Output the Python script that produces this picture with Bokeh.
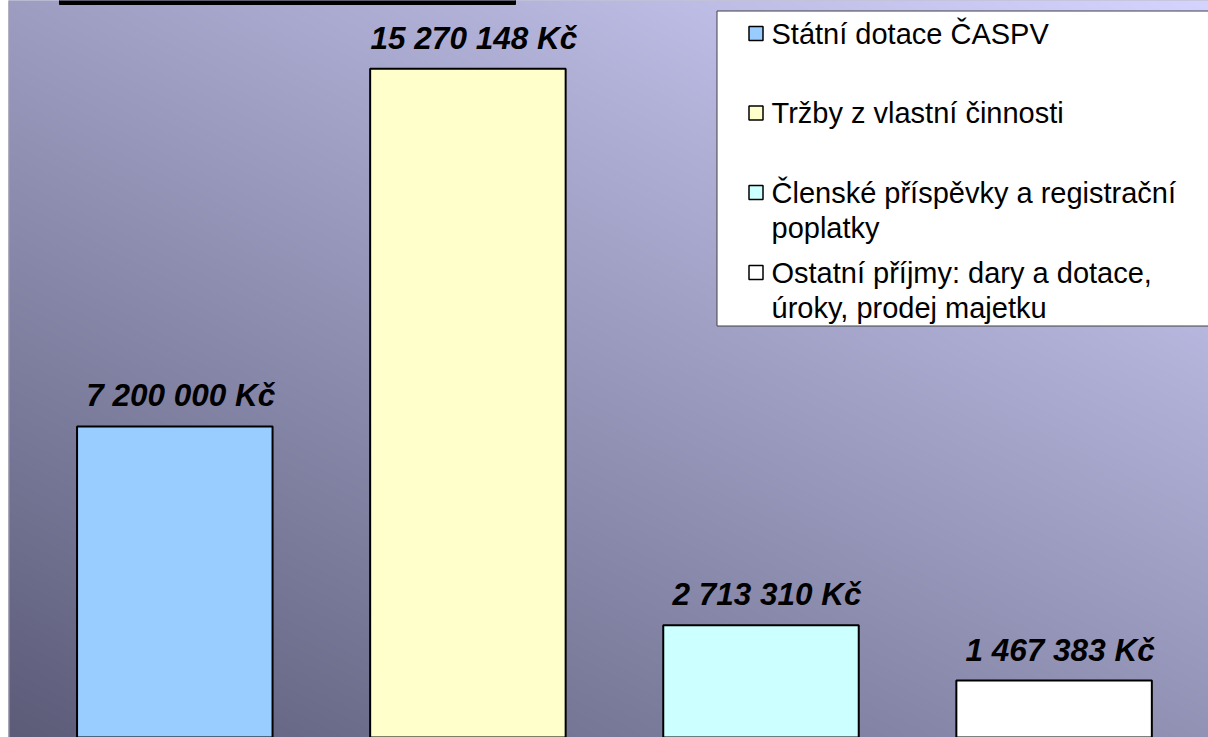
import numpy as np
from bokeh.plotting import figure
from bokeh.models import Range1d, Span
from bokeh.core.properties import value
from bokeh.embed import file_html
from bokeh.resources import INLINE

# ---------------- data ----------------
categories = [
    "Státní dotace ČASPV",
    "Tržby z vlastní činnosti",
    "Členské příspěvky a registrační poplatky",
    "Ostatní příjmy: dary a dotace, úroky, prodej majetku",
]
legend_lines = [
    ["Státní dotace ČASPV"],
    ["Tržby z vlastní činnosti"],
    ["Členské příspěvky a registrační", "poplatky"],
    ["Ostatní příjmy: dary a dotace,", "úroky, prodej majetku"],
]
values = [7200000, 15270148, 2713310, 1467383]
colors = ["#99ccff", "#ffffcc", "#ccffff", "#ffffff"]
labels = [f"{v:,}".replace(",", " ") + " Kč" for v in values]

# ---------------- layout ----------------
W, H = 1200, 737          # figure size
LEFT, TOP = 8, 0          # page position of figure
XS, XE = -0.5674, 3.5268  # category index range
YB, YT = 0.1827e6, 16.810e6


def dx(px):
    return XS + (px - LEFT) / W * (XE - XS)


def dy(py):
    return YT - (py - TOP) / H * (YT - YB)


p = figure(width=W, height=H, x_range=Range1d(XS, XE), y_range=Range1d(YB, YT),
           output_backend="svg", toolbar_location=None, min_border=0,
           x_axis_location=None, y_axis_location=None,
           outline_line_color=None, margin=(0, 0, 0, 8))
p.grid.visible = False
p.background_fill_color = "#8888b0"
p.border_fill_color = "white"

# gradient background (styling only)
h2, w2 = H // 2 + 1, W // 2
jj = np.arange(w2)[None, :]
ii = np.arange(h2)[:, None]
pxs = LEFT + (jj + 0.5) * 2
pys = TOP + H - (ii + 0.5) * 2
t = (0.045 * (pxs - 8) + 0.088 * (737 - pys)) / 118.9
t = np.clip(t, 0, 1)
dark = np.array([92, 92, 121])
light = np.array([212, 212, 255])
r = (dark[0] + t * (light[0] - dark[0])).astype(np.uint32)
g = (dark[1] + t * (light[1] - dark[1])).astype(np.uint32)
b = (dark[2] + t * (light[2] - dark[2])).astype(np.uint32)
img = (255 << 24) | (b << 16) | (g << 8) | r
img = img.astype(np.uint32)
p.image_rgba(image=[img], x=XS, y=YB, dw=XE - XS, dh=YT - YB)

# left border of chart area
p.add_layout(Span(location=dx(8.5), dimension="height", line_color="#a0a0a0", line_width=1))

# bottom edge of title box (cropped)
p.quad(left=dx(59), right=dx(515), top=dy(-5), bottom=dy(4), fill_color="black", line_color="black")

xs = list(range(len(values)))
p.vbar(x=xs, top=values, bottom=0, width=0.667, fill_color=colors,
       line_color="black", line_width=2)

p.text(x=xs, y=values, text=labels, text_align="center", text_baseline="alphabetic",
       x_offset=6, y_offset=-31, text_font=value("Liberation Sans"), text_font_size="31.5px",
       text_font_style="bold italic", text_color="black")

# legend
p.quad(left=dx(716.5), right=dx(1230), top=dy(10.5), bottom=dy(325.5),
       fill_color="white", line_color="#404040", line_width=1)
entry_y = [33, 112.5, 192, 272]
line_gap = 35
sq_x, sq_y, sq_c = [], [], []
tx, ty, tt = [], [], []
for k, lines in enumerate(legend_lines):
    sq_x.append(dx(755.5))
    sq_y.append(dy(entry_y[k]))
    sq_c.append(colors[k])
    for m, ln in enumerate(lines):
        tx.append(dx(771))
        ty.append(dy(entry_y[k] + m * line_gap))
        tt.append(ln)
p.scatter(x=sq_x, y=sq_y, marker="square", size=14, fill_color=sq_c,
          line_color="black", line_width=1.5)
p.text(x=tx, y=ty, text=tt, text_align="left", text_baseline="middle",
       text_font=value("Liberation Sans"), text_font_size="29px", text_color="black")

open("out.html", "w").write(file_html(p, INLINE))
